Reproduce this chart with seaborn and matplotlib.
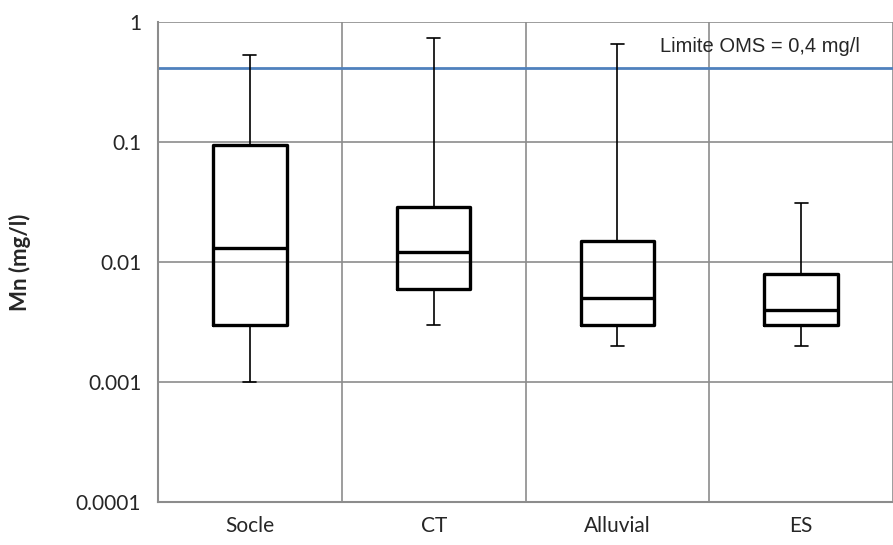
import numpy as np
import pandas as pd
import matplotlib
matplotlib.use("Agg")
import matplotlib.pyplot as plt
import seaborn as sns

# five-number summaries: min, Q1, median, Q3, max
categories = ["Socle", "CT", "Alluvial", "ES"]
mins = [0.001, 0.003, 0.002, 0.002]
q1s = [0.003, 0.006, 0.003, 0.003]
medians = [0.013, 0.012, 0.005, 0.004]
q3s = [0.095, 0.029, 0.015, 0.008]
maxs = [0.53, 0.74, 0.65, 0.031]
oms_limit = 0.41
y_ticks = [0.0001, 0.001, 0.01, 0.1, 1]

# 5 points per group -> linear percentiles land exactly on Q1/median/Q3
rows = []
for cat, a, b, c, d, e in zip(categories, mins, q1s, medians, q3s, maxs):
    for v in (a, b, c, d, e):
        rows.append({"group": cat, "Mn": v})
df = pd.DataFrame(rows)

sns.set_style("white")
plt.rcParams["font.family"] = ["Lato", "DejaVu Sans"]

fig = plt.figure(figsize=(8.93, 5.45), dpi=100)
ax = fig.add_axes([158 / 893, 43 / 545, 1 - 158 / 893, 480 / 545])
ax.set_yscale("log")

grid_c = "#8c8c8c"
sns.boxplot(data=df, x="group", y="Mn", order=categories, whis=(0, 100),
            width=0.4, fill=False, color="black", ax=ax,
            boxprops=dict(linewidth=2.4, color="black"),
            medianprops=dict(linewidth=2.4, color="black"),
            whiskerprops=dict(linewidth=1.2, color="black"),
            capprops=dict(linewidth=1.2, color="black"),
            capwidths=0.07)

ax.axhline(oms_limit, color="#4f81bd", lw=2, zorder=1)
ax.text(2.23, 0.62, "Limite OMS = 0,4 mg/l", fontsize=14.5,
        family="Liberation Sans", va="center", ha="left")

ax.set_ylim(1e-4, 1)
ax.set_xlim(-0.5, 3.473)
ax.set_yticks(y_ticks)
ax.set_yticklabels([f"{t:g}" for t in y_ticks])
ax.yaxis.set_minor_locator(matplotlib.ticker.NullLocator())

# category boundaries carry grid lines and ticks; labels sit between them
ax.set_xticks(np.arange(-0.5, 4, 1.0))
ax.set_xticklabels([])
ax.set_xticks(range(len(categories)), minor=True)
ax.set_xticklabels(categories, minor=True)
ax.tick_params(axis="x", which="minor", length=0, pad=10, labelsize=15)
ax.tick_params(axis="x", which="major", length=6, color=grid_c, width=1.2)
ax.tick_params(axis="y", which="major", length=6, color=grid_c, width=1.2,
               labelsize=15, pad=6)

ax.grid(True, which="major", color=grid_c, lw=1.2, zorder=0)
ax.set_axisbelow(True)
for side in ("top", "right"):
    ax.spines[side].set_visible(False)
for side in ("left", "bottom"):
    ax.spines[side].set_color(grid_c)
    ax.spines[side].set_linewidth(1.5)

ax.set_xlabel("")
ax.set_ylabel("Mn (mg/l)", fontsize=16, fontweight="bold", labelpad=32)

fig.savefig("out.png", dpi=100)
